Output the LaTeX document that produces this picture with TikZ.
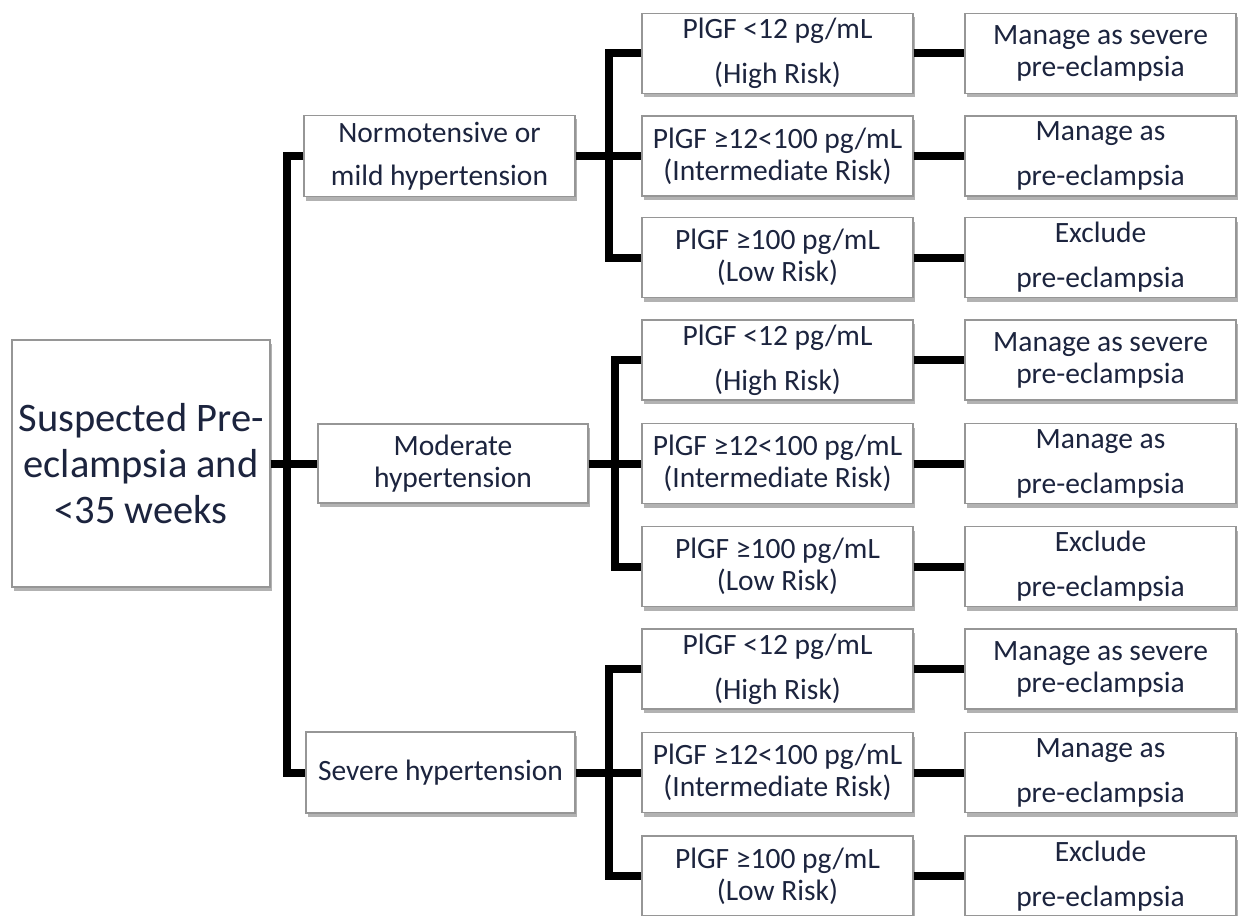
\documentclass[tikz,border=0pt]{standalone}
\usepackage{fontspec}
\setmainfont{Carlito}
\usepackage{xcolor}
\usepackage{tikz}
\usetikzlibrary{calc,shadows}

\definecolor{boxtext}{RGB}{28,36,62}
\definecolor{boxline}{RGB}{150,150,150}

\tikzset{
  box/.style={draw=boxline, line width=1.2pt, fill=white, align=center, inner sep=0pt,
    text=boxtext, font=\fontsize{29.5}{32}\selectfont,
    drop shadow={shadow xshift=2pt, shadow yshift=-4pt, opacity=0.3, fill=black}},
  testbox/.style={box, minimum width=271pt, minimum height=80pt},
  link/.style={line width=8pt, black},
}

\begin{document}
\begin{tikzpicture}[x=1pt, y=-1pt]
      \useasboundingbox (0,0) rectangle (1246,915);

      % Start box
      \node[box, minimum width=258pt, minimum height=247pt, font=\fontsize{40.5}{46}\selectfont]
        (start) at (141,463.5) {Suspected Pre-\\eclampsia and\\<35 weeks};

      % Blood pressure boxes
      \node[box, minimum width=271pt, minimum height=81pt] (normo) at (439.5,156) {Normotensive or\\[11pt]mild hypertension};
      \node[box, minimum width=270pt, minimum height=79pt] (moder) at (453,463.5) {Moderate\\hypertension};
      \node[box, minimum width=269pt, minimum height=81pt] (severe) at (440.5,772.5) {Severe hypertension};

      % PlGF boxes
      \node[testbox] (n1) at (777.5,53.5) {PlGF <12 pg/mL\\[13pt](High Risk)};
      \node[testbox] (n2) at (777.5,156) {PlGF ≥12<100 pg/mL\\(Intermediate Risk)};
      \node[testbox] (n3) at (777.5,257.5) {PlGF ≥100 pg/mL\\(Low Risk)};

      \node[testbox] (m1) at (777.5,360) {PlGF <12 pg/mL\\[13pt](High Risk)};
      \node[testbox] (m2) at (777.5,463.5) {PlGF ≥12<100 pg/mL\\(Intermediate Risk)};
      \node[testbox] (m3) at (777.5,566.5) {PlGF ≥100 pg/mL\\(Low Risk)};

      \node[testbox] (s1) at (777.5,669) {PlGF <12 pg/mL\\[13pt](High Risk)};
      \node[testbox] (s2) at (777.5,772.5) {PlGF ≥12<100 pg/mL\\(Intermediate Risk)};
      \node[testbox] (s3) at (777.5,876) {PlGF ≥100 pg/mL\\(Low Risk)};

      % Management boxes
      \node[testbox] (nr1) at (1100.5,53.5) {Manage as severe\\pre-eclampsia};
      \node[testbox] (nr2) at (1100.5,156) {Manage as\\[13pt]pre-eclampsia};
      \node[testbox] (nr3) at (1100.5,257.5) {Exclude\\[13pt]pre-eclampsia};

      \node[testbox] (mr1) at (1100.5,360) {Manage as severe\\pre-eclampsia};
      \node[testbox] (mr2) at (1100.5,463.5) {Manage as\\[13pt]pre-eclampsia};
      \node[testbox] (mr3) at (1100.5,566.5) {Exclude\\[13pt]pre-eclampsia};

      \node[testbox] (sr1) at (1100.5,669) {Manage as severe\\pre-eclampsia};
      \node[testbox] (sr2) at (1100.5,772.5) {Manage as\\[13pt]pre-eclampsia};
      \node[testbox] (sr3) at (1100.5,876) {Exclude\\[13pt]pre-eclampsia};

      % Trunk
      \coordinate (trunk) at ($(start.east)!0.5!(start.east -| normo.west)$);
      \draw[link] (start.east) -- (moder.west);
      \draw[link] (normo.west) -| (trunk) |- (severe.west);

      % Branches to PlGF boxes
      \coordinate (nj) at ($(normo.east)!0.5!(n2.west)$);
      \coordinate (mj) at ($(moder.east)!0.5!(m2.west)$);
      \coordinate (sj) at ($(severe.east)!0.5!(s2.west)$);
      \draw[link] (normo.east) -- (n2.west);
      \draw[link] (n1.west) -| (nj) |- (n3.west);
      \draw[link] (moder.east) -- (m2.west);
      \draw[link] (m1.west) -| (mj) |- (m3.west);
      \draw[link] (severe.east) -- (s2.west);
      \draw[link] (s1.west) -| (sj) |- (s3.west);

      % PlGF to management
      \draw[link] (n1.east) -- (nr1.west);
      \draw[link] (n2.east) -- (nr2.west);
      \draw[link] (n3.east) -- (nr3.west);
      \draw[link] (m1.east) -- (mr1.west);
      \draw[link] (m2.east) -- (mr2.west);
      \draw[link] (m3.east) -- (mr3.west);
      \draw[link] (s1.east) -- (sr1.west);
      \draw[link] (s2.east) -- (sr2.west);
      \draw[link] (s3.east) -- (sr3.west);
    \end{tikzpicture}
\end{document}
